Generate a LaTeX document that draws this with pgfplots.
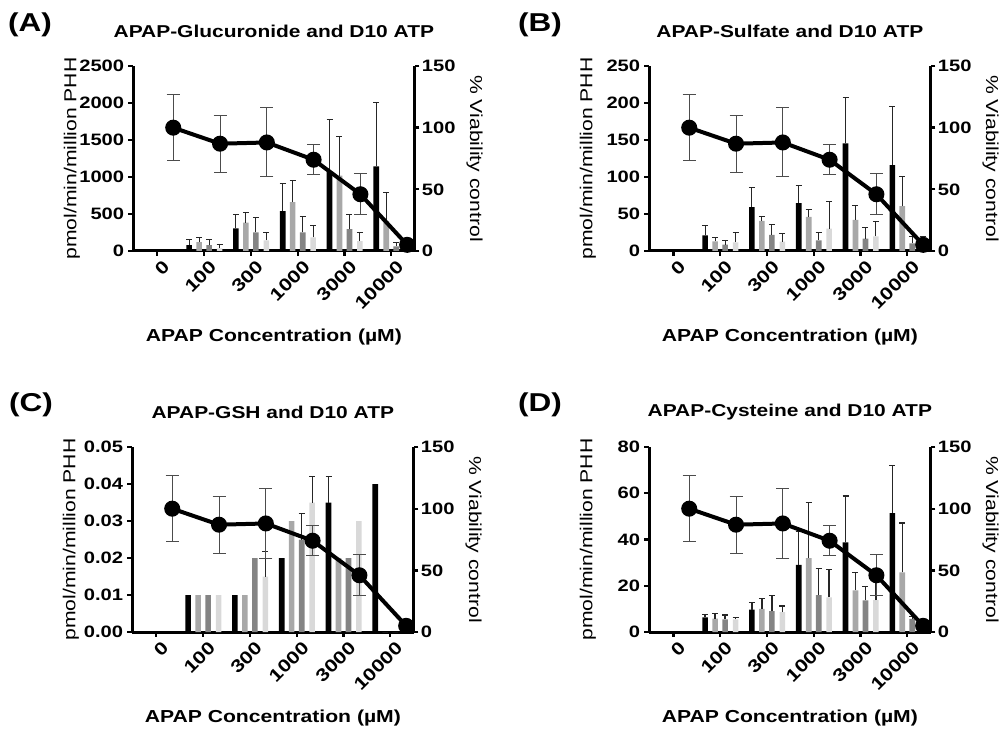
\documentclass[border=0pt]{standalone}
\usepackage{fontspec}
\setmainfont{Liberation Sans}[FakeStretch=1.22]
\usepackage{pgfplots}
\pgfplotsset{compat=1.18}
\definecolor{gA}{HTML}{A8A8A8}
\definecolor{gB}{HTML}{848484}
\definecolor{gC}{HTML}{D9D9D9}
\pgfplotsset{
  base/.style={scale only axis, width=169pt, height=111pt, xmin=-0.52, xmax=5.5,
    axis line style={line width=1.8pt, -}, x axis line style={-}, y axis line style={-},
    tick style={line width=1.4pt, black}, major tick length=2.8pt, tick align=outside,
    /pgf/number format/assume math mode=true,
    /pgf/number format/1000 sep={},
    scaled ticks=false,
    tick label style={font=\fontsize{9.9}{10}\selectfont\bfseries},
    label style={font=\fontsize{10.4}{12}\selectfont},
    clip=false},
  leftax/.style={base, axis x line*=bottom, axis y line*=left, ymin=0,
    xtick={0,...,5}, xticklabels={0,100,300,1000,3000,10000},
    xticklabel style={rotate=45, anchor=north east, inner sep=1pt, yshift=-2.4pt, xshift=1.5pt,
      font=\fontsize{10.6}{11}\selectfont\bfseries},
    yticklabel style={xshift=1pt},
    xlabel={\bfseries APAP Concentration (µM)},
    xlabel style={at={(axis description cs:0.5,-0.465)}, anchor=center},
    ylabel={pmol/min/million PHH},
    ylabel style={at={(axis description cs:-0.217,0.5)}, anchor=center},
    title style={at={(axis description cs:0.5,1.135)}, anchor=center, font=\fontsize{10.3}{12}\selectfont\bfseries}},
  rightax/.style={base, axis y line*=right, axis x line=none, ymin=0, ymax=150,
    ytick={0,50,100,150}, xtick=\empty,
    yticklabel style={xshift=-2pt},
    ylabel={\% Viability control},
    ylabel style={at={(axis description cs:1.213,0.5)}, anchor=center, rotate=180}},
  ebarw/.style={error bars/.cd, y dir=plus, y explicit,
    error bar style={line width=#1, draw=black!85, solid},
    error mark options={rotate=90, mark size=1.8pt, line width=#1, draw=black!85}},
  ebar/.style={ebarw=0.6pt},
  bA/.style={ybar, bar width=0.12, bar shift=0, fill=black, draw=none},
  bB/.style={ybar, bar width=0.12, bar shift=0, fill=gA, draw=none},
  bC/.style={ybar, bar width=0.12, bar shift=0, fill=gB, draw=none},
  bD/.style={ybar, bar width=0.12, bar shift=0, fill=gC, draw=none},
  viab/.style={black, line width=2.4pt, mark=*, mark size=3.6pt, mark options={solid, fill=black},
    error bars/.cd, y dir=both, y explicit,
    error bar style={line width=0.6pt, black!70},
    error mark options={rotate=90, mark size=3.9pt, line width=0.6pt, black!70}}
}
\newcommand{\viabplot}{%
  \addplot[viab] coordinates {(0.34,100) +- (0,27) (1.34,87) +- (0,23) (2.34,88) +- (0,28)
    (3.34,74) +- (0,12) (4.34,46) +- (0,16.5) (5.34,5) +- (0,3)};}
\begin{document}
\begin{tikzpicture}
\useasboundingbox (0,0) rectangle (603pt,439.8pt);
% ---------------- (A)
\begin{axis}[leftax, at={(79.8pt,289.2pt)}, anchor=south west, ymax=2500, ytick={0,500,...,2500},
  title={APAP-Glucuronide and D10 ATP}]
\addplot[bA, ebar] coordinates {(0.68,81) +- (0,76) (1.68,306) +- (0,189) (2.68,540) +- (0,373) (3.68,1071) +- (0,706) (4.68,1143) +- (0,859)};
\addplot[bB, ebar] coordinates {(0.893,121) +- (0,63) (1.893,382) +- (0,144) (2.893,661) +- (0,289) (3.893,1017) +- (0,531) (4.893,400) +- (0,396)};
\addplot[bC, ebar] coordinates {(1.107,81) +- (0,76) (2.107,252) +- (0,198) (3.107,252) +- (0,216) (4.107,297) +- (0,198) (5.107,63) +- (0,58)};
\addplot[bD, ebar] coordinates {(1.33,36) +- (0,54) (2.33,144) +- (0,108) (3.33,184) +- (0,162) (4.33,135) +- (0,117) (5.33,40) +- (0,40)};
\end{axis}
\begin{axis}[rightax, at={(79.8pt,289.2pt)}, anchor=south west]
\viabplot
\end{axis}
% ---------------- (B)
\begin{axis}[leftax, at={(389.4pt,289.2pt)}, anchor=south west, ymax=250, ytick={0,50,...,250},
  title={APAP-Sulfate and D10 ATP}]
\addplot[bA, ebar] coordinates {(0.68,21.2) +- (0,13.6) (1.68,59.2) +- (0,27.1) (2.68,64.6) +- (0,24.4) (3.68,145.5) +- (0,62) (4.68,116) +- (0,79)};
\addplot[bB, ebar] coordinates {(0.893,13.1) +- (0,5.4) (1.893,40.7) +- (0,5.9) (2.893,46.1) +- (0,9.5) (3.893,42) +- (0,19.5) (4.893,60.6) +- (0,40.4)};
\addplot[bC, ebar] coordinates {(1.107,8.6) +- (0,5.4) (2.107,21.7) +- (0,14.5) (3.107,14.5) +- (0,9.9) (4.107,16.7) +- (0,14.9) (5.107,10.4) +- (0,9)};
\addplot[bD, ebar] coordinates {(1.33,11.8) +- (0,13.1) (2.33,12.7) +- (0,11.3) (3.33,30.3) +- (0,37.1) (4.33,19.9) +- (0,19.9) (5.33,12) +- (0,8)};
\end{axis}
\begin{axis}[rightax, at={(389.4pt,289.2pt)}, anchor=south west]
\viabplot
\end{axis}
% ---------------- (C)
\begin{axis}[leftax, at={(79.2pt,60.6pt)}, anchor=south west, ymax=0.05, ytick={0,0.01,...,0.05},
  yticklabel style={/pgf/number format/.cd, fixed, fixed zerofill, precision=2},
  title={APAP-GSH and D10 ATP}]
\addplot[bA] coordinates {(0.68,0.01) (1.68,0.01) (2.68,0.02) (3.68,0.035) (4.68,0.04)};
\addplot[bB] coordinates {(0.893,0.01) (1.893,0.01) (2.893,0.03) (3.893,0.02) (4.893,0)};
\addplot[bC] coordinates {(1.107,0.01) (2.107,0.02) (3.107,0.025) (4.107,0.02) (5.107,0)};
\addplot[bD] coordinates {(1.33,0.01) (2.33,0.015) (3.33,0.035) (4.33,0.03) (5.33,0.003)};
\addplot[draw=none, mark=none, ebar] coordinates {(3.68,0.035) +- (0,0.007) (3.107,0.025) +- (0,0.007) (2.33,0.015) +- (0,0.0067) (3.33,0.035) +- (0,0.007)};
\end{axis}
\begin{axis}[rightax, at={(79.2pt,60.6pt)}, anchor=south west]
\viabplot
\end{axis}
% ---------------- (D)
\begin{axis}[leftax, at={(389.4pt,60.6pt)}, anchor=south west, ymax=80, ytick={0,20,...,80},
  title={APAP-Cysteine and D10 ATP}]
\addplot[bA, ebarw=0.8pt] coordinates {(0.68,6.3) +- (0,1.3) (1.68,9.7) +- (0,3.1) (2.68,29) +- (0,14.5) (3.68,38.8) +- (0,20) (4.68,51.4) +- (0,20.6)};
\addplot[bB, ebarw=0.8pt] coordinates {(0.893,5.8) +- (0,2.1) (1.893,10) +- (0,4.4) (2.893,31.9) +- (0,24.1) (3.893,18) +- (0,7.6) (4.893,25.8) +- (0,21.3)};
\addplot[bC, ebarw=0.8pt] coordinates {(1.107,5.5) +- (0,1.9) (2.107,9) +- (0,6.7) (3.107,15.9) +- (0,11.5) (4.107,13.7) +- (0,6.1) (5.107,5.7) +- (0,1)};
\addplot[bD, ebarw=0.8pt] coordinates {(1.33,5.5) +- (0,0.9) (2.33,8.6) +- (0,2.7) (3.33,15) +- (0,11.9) (4.33,13.8) +- (0,8.5) (5.33,3) +- (0,1)};
\end{axis}
\begin{axis}[rightax, at={(389.4pt,60.6pt)}, anchor=south west]
\viabplot
\end{axis}
% panel letters
\node[font=\fontsize{15.5}{16}\selectfont\bfseries] at (18pt,425.1pt) {(A)};
\node[font=\fontsize{15.5}{16}\selectfont\bfseries] at (324pt,425.1pt) {(B)};
\node[font=\fontsize{15.5}{16}\selectfont\bfseries] at (18.6pt,196.8pt) {(C)};
\node[font=\fontsize{15.5}{16}\selectfont\bfseries] at (324pt,196.8pt) {(D)};
\end{tikzpicture}
\end{document}
